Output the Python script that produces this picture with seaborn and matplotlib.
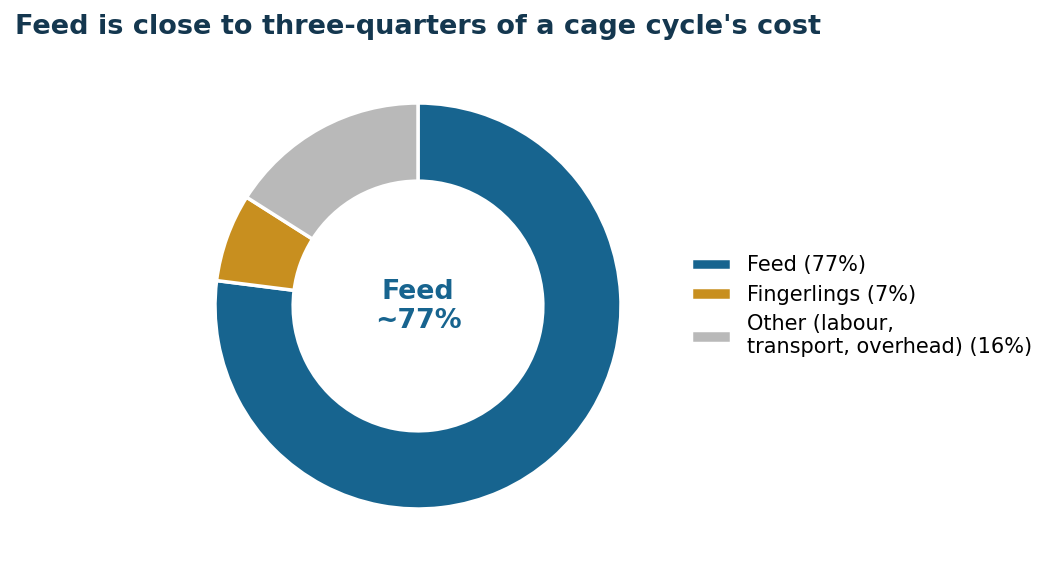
import matplotlib
matplotlib.use("Agg")
import matplotlib.pyplot as plt
import seaborn as sns

# data
labels = ["Feed (77%)", "Fingerlings (7%)", "Other (labour,\ntransport, overhead) (16%)"]
shares = [77, 7, 16]
colors = ["#17648f", "#c88f1f", "#b9b9b9"]

sns.set_style("white")
plt.rcParams['font.family'] = ['DejaVu Sans']

fig = plt.figure(figsize=(10.55, 5.64), dpi=100)
ax = fig.add_axes([215/1055, 55/564, 406/1055, 406/564])

wedges, _ = ax.pie(shares, colors=colors, startangle=90, counterclock=False,
                   wedgeprops=dict(width=0.385, edgecolor="white", linewidth=2.5))
ax.set_xlim(-1.0, 1.0)
ax.set_ylim(-1.0, 1.0)
ax.set_aspect("equal")

# centre label
ax.text(0, -0.003, "Feed\n~77%", ha="center", va="center", fontsize=19.3,
        fontweight="bold", color="#17648f", linespacing=1.15)

fig.legend(wedges, labels, loc="center left", bbox_to_anchor=(0.6374, 0.457),
           frameon=False, fontsize=15, handlelength=1.9, handleheight=0.55,
           labelspacing=0.45, handletextpad=0.8, labelcolor="black")

fig.text(0.014, 0.952, "Feed is close to three-quarters of a cage cycle's cost",
         ha="left", va="center", fontsize=19.5, fontweight="bold", color="#14374f")

fig.savefig("out.png", dpi=100)
